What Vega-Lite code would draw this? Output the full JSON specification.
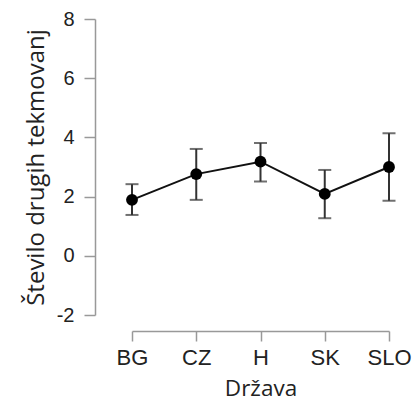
{
  "$schema": "https://vega.github.io/schema/vega-lite/v6.json",
  "autosize": "none",
  "width": 257,
  "height": 296,
  "padding": {"left": 132, "top": 19, "right": 26, "bottom": 92},
  "background": "white",
  "config": {
    "view": {"stroke": null},
    "axis": {
      "grid": false,
      "domainColor": "#999999",
      "tickColor": "#999999",
      "domainWidth": 1.5,
      "tickWidth": 1.5,
      "labelFont": "Liberation Sans",
      "labelFontSize": 20,
      "labelColor": "#222222",
      "titleFont": "Open Sans",
      "titleFontSize": 22,
      "titleFontWeight": "normal",
      "titleColor": "#222222"
    }
  },
  "data": {
    "values": [
      {"drzava": "BG", "mean": 1.89, "lo": 1.38, "hi": 2.42},
      {"drzava": "CZ", "mean": 2.76, "lo": 1.89, "hi": 3.61},
      {"drzava": "H", "mean": 3.18, "lo": 2.51, "hi": 3.81},
      {"drzava": "SK", "mean": 2.09, "lo": 1.27, "hi": 2.90},
      {"drzava": "SLO", "mean": 3.00, "lo": 1.86, "hi": 4.14}
    ]
  },
  "encoding": {
    "x": {
      "field": "drzava",
      "type": "nominal",
      "sort": null,
      "scale": {"type": "point", "padding": 0},
      "axis": {"title": "Država", "labelAngle": 0, "offset": 16, "tickSize": 10, "labelPadding": 6, "labelFontSize": 22, "titlePadding": 9, "titleFontSize": 22.5}
    }
  },
  "layer": [
    {
      "mark": {"type": "rule", "color": "#333333", "strokeWidth": 2},
      "encoding": {
        "y": {"field": "lo", "type": "quantitative", "scale": {"domain": [-2, 8], "nice": false, "zero": false},
          "axis": {"title": "Število drugih tekmovanj", "values": [-2, 0, 2, 4, 6, 8], "labelExpr": "datum.value < 0 ? '-' + abs(datum.value) : '' + datum.value", "offset": 37, "tickSize": 11, "labelPadding": 10, "titlePadding": 8, "titleFontSize": 24}},
        "y2": {"field": "hi"}
      }
    },
    {
      "mark": {"type": "tick", "color": "#333333", "thickness": 2, "size": 13, "orient": "horizontal"},
      "encoding": {"y": {"field": "lo", "type": "quantitative"}}
    },
    {
      "mark": {"type": "tick", "color": "#333333", "thickness": 2, "size": 13, "orient": "horizontal"},
      "encoding": {"y": {"field": "hi", "type": "quantitative"}}
    },
    {
      "mark": {"type": "line", "color": "#111111", "strokeWidth": 2},
      "encoding": {"y": {"field": "mean", "type": "quantitative"}}
    },
    {
      "mark": {"type": "point", "filled": true, "color": "#000000", "size": 140, "opacity": 1},
      "encoding": {"y": {"field": "mean", "type": "quantitative"}}
    }
  ]
}
